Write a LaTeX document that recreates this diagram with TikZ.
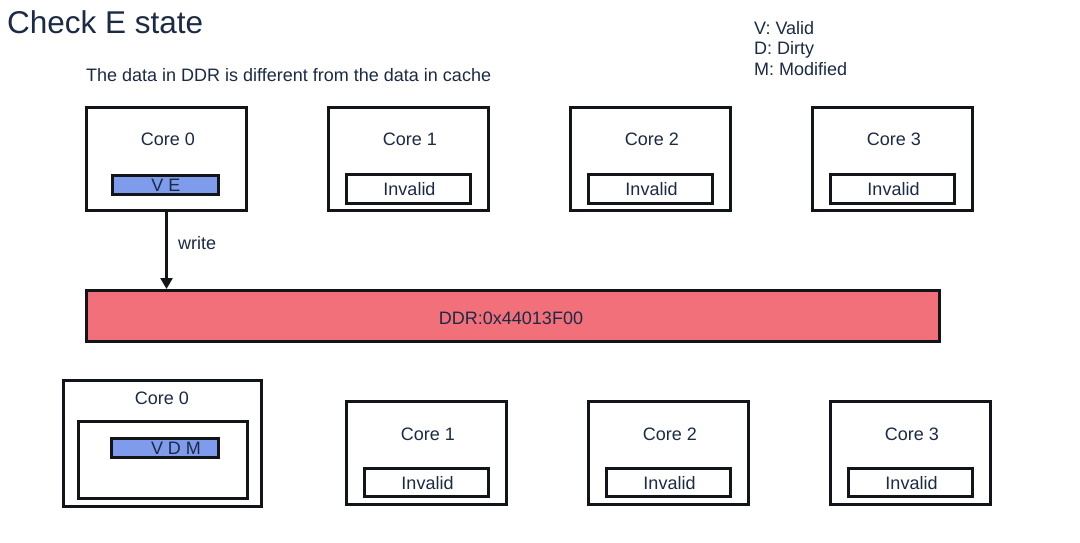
\documentclass[tikz,border=0pt]{standalone}
\usepackage{fontspec}
\setmainfont{Liberation Sans}
\usetikzlibrary{arrows.meta}
\definecolor{ink}{HTML}{1B2A45}
\definecolor{vblue}{HTML}{7F9BEB}
\definecolor{ddrred}{HTML}{F1707A}
\definecolor{frame}{HTML}{111418}
\tikzset{
  box/.style={draw=frame, line width=3pt, fill=white, inner sep=0pt},
  statebox/.style={draw=frame, line width=3pt, inner sep=0pt},
  lbl/.style={text=ink, font=\fontsize{18}{21}\selectfont, inner sep=0pt},
  arr/.style={draw=frame, line width=2.5pt, -{Triangle[length=11pt,width=12pt]}}
}
\begin{document}
\begin{tikzpicture}[x=1pt,y=-1pt]
\useasboundingbox[fill=white] (0,0) rectangle (1080,543);
% titles
\node[lbl, anchor=west, font=\fontsize{31.5}{34}\selectfont] (title) at (7,22) {Check E state};
\node[lbl, anchor=west] (sub) at (86,75) {The data in DDR is different from the data in cache};
\node[lbl, anchor=north west, align=left, font=\fontsize{18}{20.5}\selectfont] (legend) at (754,21) {V: Valid\\D: Dirty\\M: Modified};
% top row
\node[box, minimum width=160, minimum height=103] (t0) at (166.5,159) {};
\node[lbl] (t0l) at (168,139) {Core 0};
\node[statebox, fill=vblue, minimum width=106, minimum height=19] (t0s) at (165.5,185) {};
\node[lbl] (t0st) at (166,185) {V E};
\foreach \i/\x in {1/408.5,2/650.5,3/892.5}{
  \node[box, minimum width=160, minimum height=103] (t\i) at (\x,159) {};
  \node[lbl] (t\i l) at (\x+1.5,139) {Core \i};
  \node[statebox, fill=white, minimum width=124, minimum height=29] (t\i s) at (\x,189) {};
  \node[lbl] (t\i st) at (\x+1,189) {Invalid};
}
% DDR
\node[statebox, fill=ddrred, minimum width=853, minimum height=51] (ddr) at (513,316) {};
\node[lbl] (ddrt) at (511,318) {DDR:0x44013F00};
% write arrow
\draw[arr] (t0.south) -- (t0.south |- ddr.north);
\node[lbl, anchor=west] (wr) at (178,243) {write};
% bottom row
\node[box, minimum width=198, minimum height=126] (b0) at (162.5,443.5) {};
\node[lbl] (b0l) at (162,398) {Core 0};
\node[box, minimum width=169, minimum height=77] (b0i) at (163,460) {};
\node[statebox, fill=vblue, minimum width=107, minimum height=19] (b0s) at (165,448) {};
\node[lbl] (b0st) at (176,448) {V D M};
\foreach \i/\x in {1/426.5,2/668.5,3/910.5}{
  \node[box, minimum width=160, minimum height=103] (b\i) at (\x,453) {};
  \node[lbl] (b\i l) at (\x+1.5,434) {Core \i};
  \node[statebox, fill=white, minimum width=124, minimum height=28] (b\i s) at (\x,482.5) {};
  \node[lbl] (b\i st) at (\x+1,483) {Invalid};
}
\end{tikzpicture}
\end{document}
